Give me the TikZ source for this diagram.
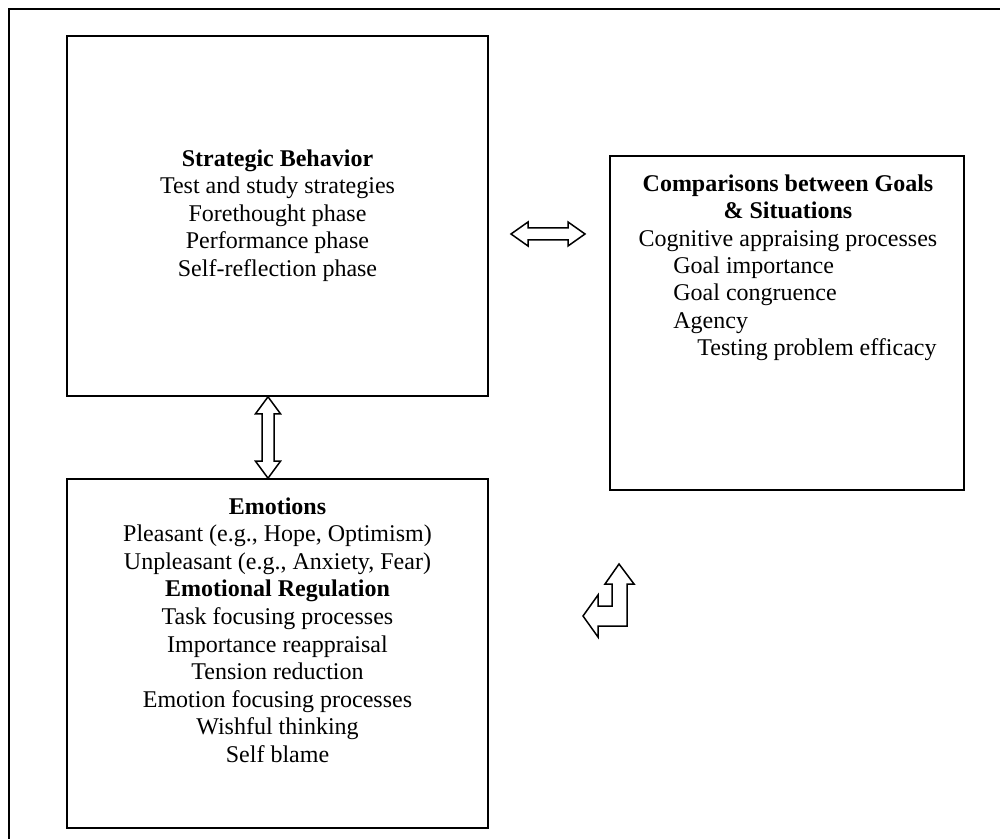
\documentclass[tikz,border=0pt]{standalone}
\usepackage{fontspec}
\setmainfont{Liberation Serif}
\usetikzlibrary{calc}
\tikzset{
    panel/.style={
            draw,
            line width=0.8pt, % thin frame
            minimum width={#1},
            inner sep=0pt
        },
    panel/.default={210pt},
    fatarrow/.style={
            draw,
            line width=0.75pt,
            line join=miter
        },
    txt/.style={
            font=\fontsize{12pt}{13.8pt}\selectfont,
            inner sep=0pt,
            align={#1}
        },
    txt/.default={center}
}
\begin{document}
\begin{tikzpicture}[
        x=0.5pt,
        y=-0.5pt,
    ]
    \useasboundingbox (0,0) rectangle (1000,839);
    % outer frame
    \draw[line width=1pt] (9,839) -- (9,9) -- (1000,9);
    % boxes
    \node[panel=210.5pt, minimum height=180pt] (strat) at (277.5,216) {};
    \node[panel=177pt, minimum height=167pt] (comp) at (787,323) {};
    \node[panel=210.5pt, minimum height=174.5pt] (emo) at (277.5,653.5) {};
    % box texts
    \node[txt, anchor=north] (strattext) at (277.5,149) {\textbf{Strategic Behavior}\\
        Test and study strategies\\
        Forethought phase\\
        Performance phase\\
        Self-reflection phase};
    \node[txt, anchor=north] (comptext) at (788,174) {\textbf{Comparisons between Goals}\\
        \textbf{\& Situations}\\
        Cognitive appraising processes};
    \node[txt=left, anchor=north west] (complist) at (673,256) {Goal importance\\
        Goal congruence\\
        Agency\\
        \hspace*{12pt}Testing problem efficacy};
    \node[txt, anchor=north] (emotext) at (277.5,497) {\textbf{Emotions}\\
        Pleasant (e.g., Hope, Optimism)\\
        Unpleasant (e.g., Anxiety, Fear)\\
        \textbf{Emotional Regulation}\\
        Task focusing processes\\
        Importance reappraisal\\
        Tension reduction\\
        Emotion focusing processes\\
        Wishful thinking\\
        Self blame};
    % vertical double arrow
    \coordinate (vtop) at ($(strat.south)+(-9.5,0)$);
    \coordinate (vbot) at ($(emo.north)+(-9.5,0)$);
    \draw[fatarrow] (vtop)
    -- ($(vtop)+(12.5,17)$) -- ($(vtop)+(6,17)$)
    -- ($(vbot)+(6,-17)$) -- ($(vbot)+(12.5,-17)$)
    -- (vbot)
    -- ($(vbot)+(-12.5,-17)$) -- ($(vbot)+(-6,-17)$)
    -- ($(vtop)+(-6,17)$) -- ($(vtop)+(-12.5,17)$)
    -- cycle;
    % horizontal double arrow
    \coordinate (hleft) at (511,234);
    \coordinate (hright) at (585,234);
    \draw[fatarrow] (hleft)
    -- ($(hleft)+(17,-12)$) -- ($(hleft)+(17,-6)$)
    -- ($(hright)+(-17,-6)$) -- ($(hright)+(-17,-12)$)
    -- (hright)
    -- ($(hright)+(-17,12)$) -- ($(hright)+(-17,6)$)
    -- ($(hleft)+(17,6)$) -- ($(hleft)+(17,12)$)
    -- cycle;
    % bent arrow
    \coordinate (bup) at (619,564);
    \coordinate (bleft) at (583,616);
    \draw[fatarrow] (bup)
    -- ($(bup)+(15,20)$) -- ($(bup)+(8,20)$)
    -- ($(bleft)+(44,10)$) -- ($(bleft)+(15,10)$)
    -- ($(bleft)+(15,21)$) -- (bleft) -- ($(bleft)+(15,-21)$)
    -- ($(bleft)+(15,-10)$) -- ($(bleft)+(29,-10)$)
    -- ($(bup)+(-7,20)$) -- ($(bup)+(-14,20)$)
    -- cycle;
\end{tikzpicture}
\end{document}
